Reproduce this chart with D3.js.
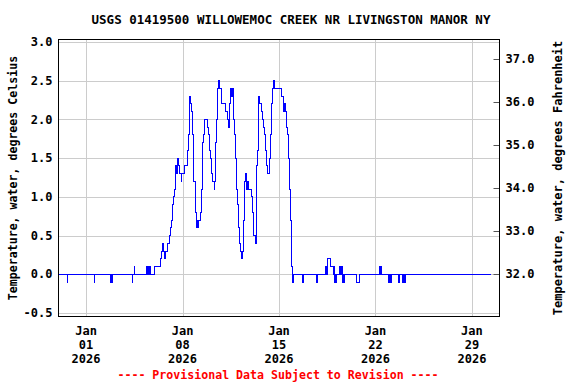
<!DOCTYPE html>
<html>
<head>
<meta charset="utf-8">
<script src="https://cdn.jsdelivr.net/npm/d3@7"></script>
<style>
  body { margin: 0; background: #fff; }
  text { font-family: "DejaVu Sans Mono", monospace; font-weight: bold; }
</style>
</head>
<body>
<div id="chart"></div>
<script>
const title = "USGS 01419500 WILLOWEMOC CREEK NR LIVINGSTON MANOR NY";
const footer = "---- Provisional Data Subject to Revision ----";
const leftLabel = "Temperature, water, degrees Celsius";
const rightLabel = "Temperature, water, degrees Fahrenheit";

const celsiusTicks = [-0.5, 0, 0.5, 1, 1.5, 2, 2.5, 3];
const fahrenheitTicks = [32, 33, 34, 35, 36, 37];
const dateTicks = ["2026-01-01 00:00", "2026-01-08 00:00", "2026-01-15 00:00", "2026-01-22 00:00", "2026-01-29 00:00"];

// water temperature (deg C), value holds until the next reading
const readings = [
  ["2025-12-30 00:00", 0.0], ["2025-12-30 16:00", -0.1], ["2025-12-30 16:15", 0.0],
  ["2026-01-01 14:30", -0.1], ["2026-01-01 14:45", 0.0],
  ["2026-01-02 18:15", -0.1], ["2026-01-02 18:45", 0.0], ["2026-01-02 19:15", -0.1], ["2026-01-02 19:45", 0.0],
  ["2026-01-02 20:15", -0.1], ["2026-01-02 20:45", 0.0], ["2026-01-02 21:15", -0.1], ["2026-01-02 21:45", 0.0],
  ["2026-01-02 22:15", -0.1], ["2026-01-02 22:45", 0.0],
  ["2026-01-04 08:30", -0.1], ["2026-01-04 08:45", 0.0], ["2026-01-04 12:30", 0.1], ["2026-01-04 12:45", 0.0],
  ["2026-01-05 09:30", 0.1], ["2026-01-05 10:00", 0.0], ["2026-01-05 10:30", 0.1], ["2026-01-05 11:00", 0.0],
  ["2026-01-05 11:30", 0.1], ["2026-01-05 12:00", 0.0], ["2026-01-05 12:30", 0.1], ["2026-01-05 13:00", 0.0],
  ["2026-01-05 13:30", 0.1], ["2026-01-05 14:00", 0.0], ["2026-01-05 14:30", 0.1], ["2026-01-05 15:00", 0.0],
  ["2026-01-05 15:30", 0.1], ["2026-01-05 15:45", 0.0],
  ["2026-01-05 23:15", 0.1], ["2026-01-06 09:45", 0.2], ["2026-01-06 11:00", 0.3], ["2026-01-06 12:15", 0.4],
  ["2026-01-06 14:00", 0.3], ["2026-01-06 16:15", 0.2], ["2026-01-06 16:45", 0.3], ["2026-01-06 17:15", 0.2],
  ["2026-01-06 17:45", 0.3], ["2026-01-06 18:15", 0.2], ["2026-01-06 18:45", 0.3], ["2026-01-06 22:30", 0.4],
  ["2026-01-07 01:15", 0.5], ["2026-01-07 03:45", 0.6], ["2026-01-07 05:30", 0.7], ["2026-01-07 06:30", 0.8],
  ["2026-01-07 07:15", 0.9], ["2026-01-07 09:00", 1.0], ["2026-01-07 10:00", 1.1], ["2026-01-07 11:00", 1.2],
  ["2026-01-07 11:45", 1.4], ["2026-01-07 12:15", 1.3], ["2026-01-07 12:45", 1.4], ["2026-01-07 13:15", 1.3],
  ["2026-01-07 13:45", 1.4], ["2026-01-07 14:15", 1.3], ["2026-01-07 14:45", 1.4], ["2026-01-07 15:15", 1.5],
  ["2026-01-07 16:30", 1.4], ["2026-01-07 18:45", 1.3], ["2026-01-07 22:15", 1.2], ["2026-01-07 22:30", 1.3],
  ["2026-01-08 03:30", 1.4], ["2026-01-08 08:00", 1.5], ["2026-01-08 09:15", 1.6], ["2026-01-08 10:15", 1.7],
  ["2026-01-08 11:00", 1.8], ["2026-01-08 11:30", 2.0], ["2026-01-08 12:00", 2.2], ["2026-01-08 12:15", 2.3],
  ["2026-01-08 14:30", 2.2], ["2026-01-08 16:15", 2.1], ["2026-01-08 17:00", 2.0], ["2026-01-08 17:30", 1.9],
  ["2026-01-08 18:00", 1.8], ["2026-01-08 19:00", 1.5], ["2026-01-08 19:45", 1.2], ["2026-01-08 22:00", 1.1],
  ["2026-01-08 22:45", 1.0], ["2026-01-08 23:15", 0.8], ["2026-01-09 00:15", 0.7], ["2026-01-09 01:00", 0.6],
  ["2026-01-09 01:30", 0.7], ["2026-01-09 02:00", 0.6], ["2026-01-09 02:30", 0.7], ["2026-01-09 03:00", 0.6],
  ["2026-01-09 03:30", 0.7], ["2026-01-09 04:00", 0.6], ["2026-01-09 04:30", 0.7], ["2026-01-09 06:45", 0.8],
  ["2026-01-09 09:45", 1.1], ["2026-01-09 10:30", 1.4], ["2026-01-09 11:30", 1.7], ["2026-01-09 12:30", 1.8],
  ["2026-01-09 13:45", 1.9], ["2026-01-09 14:15", 2.0], ["2026-01-09 18:45", 1.9], ["2026-01-09 21:00", 1.8],
  ["2026-01-09 22:15", 1.7], ["2026-01-09 23:30", 1.6], ["2026-01-10 01:15", 1.5], ["2026-01-10 02:00", 1.4],
  ["2026-01-10 03:00", 1.3], ["2026-01-10 04:45", 1.2], ["2026-01-10 07:00", 1.1], ["2026-01-10 07:30", 1.2],
  ["2026-01-10 08:45", 1.5], ["2026-01-10 10:00", 1.7], ["2026-01-10 11:00", 1.8], ["2026-01-10 11:45", 2.0],
  ["2026-01-10 13:30", 2.4], ["2026-01-10 14:30", 2.5], ["2026-01-10 16:15", 2.4], ["2026-01-10 19:15", 2.3],
  ["2026-01-10 20:30", 2.2], ["2026-01-11 02:00", 2.1], ["2026-01-11 06:00", 2.0], ["2026-01-11 08:00", 1.9],
  ["2026-01-11 09:30", 2.2], ["2026-01-11 10:45", 2.3], ["2026-01-11 11:15", 2.4], ["2026-01-11 11:45", 2.3],
  ["2026-01-11 12:15", 2.4], ["2026-01-11 12:45", 2.3], ["2026-01-11 13:15", 2.4], ["2026-01-11 13:45", 2.3],
  ["2026-01-11 14:15", 2.4], ["2026-01-11 14:45", 2.3], ["2026-01-11 15:15", 2.4], ["2026-01-11 15:45", 2.3],
  ["2026-01-11 16:15", 2.4], ["2026-01-11 16:30", 2.1], ["2026-01-11 17:15", 2.0], ["2026-01-11 18:00", 1.9],
  ["2026-01-11 18:45", 1.8], ["2026-01-11 19:30", 1.7], ["2026-01-11 20:30", 1.5], ["2026-01-11 21:15", 1.3],
  ["2026-01-11 22:00", 1.2], ["2026-01-11 22:45", 1.1], ["2026-01-11 23:30", 1.0], ["2026-01-12 00:30", 0.9],
  ["2026-01-12 01:15", 0.8], ["2026-01-12 02:15", 0.6], ["2026-01-12 03:00", 0.5], ["2026-01-12 03:45", 0.4],
  ["2026-01-12 04:15", 0.3], ["2026-01-12 06:00", 0.2], ["2026-01-12 09:00", 0.3], ["2026-01-12 10:00", 0.5],
  ["2026-01-12 10:45", 0.7], ["2026-01-12 11:15", 0.9], ["2026-01-12 11:45", 1.0], ["2026-01-12 12:15", 1.2],
  ["2026-01-12 14:00", 1.3], ["2026-01-12 15:45", 1.2], ["2026-01-12 16:15", 1.1], ["2026-01-12 16:45", 1.2],
  ["2026-01-12 17:15", 1.1], ["2026-01-12 17:45", 1.2], ["2026-01-12 18:15", 1.1], ["2026-01-13 00:30", 1.0],
  ["2026-01-13 01:30", 0.9], ["2026-01-13 02:15", 0.8], ["2026-01-13 02:45", 0.7], ["2026-01-13 03:00", 0.6],
  ["2026-01-13 03:15", 0.5], ["2026-01-13 06:15", 0.4], ["2026-01-13 08:00", 0.8], ["2026-01-13 08:45", 1.1],
  ["2026-01-13 09:15", 1.4], ["2026-01-13 10:30", 1.6], ["2026-01-13 11:30", 1.8], ["2026-01-13 12:15", 2.0],
  ["2026-01-13 12:45", 2.3], ["2026-01-13 14:30", 2.2], ["2026-01-13 16:45", 2.1], ["2026-01-13 18:30", 2.0],
  ["2026-01-13 20:45", 1.9], ["2026-01-13 23:00", 1.8], ["2026-01-14 00:00", 1.7], ["2026-01-14 01:00", 1.6],
  ["2026-01-14 01:45", 1.5], ["2026-01-14 02:30", 1.4], ["2026-01-14 04:15", 1.3], ["2026-01-14 08:15", 1.5],
  ["2026-01-14 08:45", 1.6], ["2026-01-14 09:45", 1.8], ["2026-01-14 10:30", 2.0], ["2026-01-14 11:30", 2.2],
  ["2026-01-14 12:15", 2.4], ["2026-01-14 14:00", 2.5], ["2026-01-14 17:00", 2.4], ["2026-01-15 04:30", 2.3],
  ["2026-01-15 07:30", 2.2], ["2026-01-15 08:00", 2.1], ["2026-01-15 08:30", 2.2], ["2026-01-15 09:00", 2.1],
  ["2026-01-15 09:30", 2.2], ["2026-01-15 11:30", 2.1], ["2026-01-15 13:00", 2.0], ["2026-01-15 13:45", 1.9],
  ["2026-01-15 14:30", 1.8], ["2026-01-15 15:45", 1.7], ["2026-01-15 17:00", 1.5], ["2026-01-15 18:00", 1.3],
  ["2026-01-15 19:00", 1.1], ["2026-01-15 20:00", 0.9], ["2026-01-15 20:45", 0.7], ["2026-01-15 21:30", 0.5],
  ["2026-01-15 22:00", 0.2], ["2026-01-15 22:30", 0.1], ["2026-01-15 23:00", -0.1], ["2026-01-15 23:30", 0.0],
  ["2026-01-16 00:00", -0.1], ["2026-01-16 00:30", 0.0],
  ["2026-01-16 16:45", -0.1], ["2026-01-16 18:15", 0.0], ["2026-01-17 17:30", -0.1], ["2026-01-17 19:45", 0.0],
  ["2026-01-18 09:45", 0.1], ["2026-01-18 10:15", 0.0], ["2026-01-18 10:45", 0.1], ["2026-01-18 11:15", 0.0],
  ["2026-01-18 11:45", 0.1], ["2026-01-18 12:30", 0.2], ["2026-01-18 18:15", 0.1], ["2026-01-18 22:15", 0.0],
  ["2026-01-18 22:45", 0.1], ["2026-01-18 23:15", 0.0], ["2026-01-18 23:45", 0.1], ["2026-01-19 00:15", 0.0],
  ["2026-01-19 00:45", 0.1], ["2026-01-19 01:15", -0.1], ["2026-01-19 01:45", 0.0], ["2026-01-19 02:15", -0.1],
  ["2026-01-19 02:45", 0.0], ["2026-01-19 03:15", -0.1], ["2026-01-19 03:45", 0.0],
  ["2026-01-19 10:00", 0.1], ["2026-01-19 10:30", 0.0], ["2026-01-19 11:00", 0.1], ["2026-01-19 11:30", 0.0],
  ["2026-01-19 12:00", 0.1], ["2026-01-19 12:30", 0.0], ["2026-01-19 13:00", 0.1], ["2026-01-19 13:30", 0.0],
  ["2026-01-19 14:00", 0.1], ["2026-01-19 14:30", -0.1], ["2026-01-19 15:00", 0.0], ["2026-01-19 15:30", -0.1],
  ["2026-01-19 16:00", 0.0], ["2026-01-19 16:30", -0.1], ["2026-01-19 17:00", 0.0], ["2026-01-19 17:30", -0.1],
  ["2026-01-19 18:00", 0.0],
  ["2026-01-20 15:00", -0.1], ["2026-01-20 19:30", 0.0],
  ["2026-01-22 07:30", 0.1], ["2026-01-22 08:00", 0.0], ["2026-01-22 08:30", 0.1], ["2026-01-22 09:00", 0.0],
  ["2026-01-22 09:30", 0.1], ["2026-01-22 10:00", 0.0],
  ["2026-01-22 23:00", -0.1], ["2026-01-22 23:30", 0.0], ["2026-01-23 00:00", -0.1], ["2026-01-23 00:30", 0.0],
  ["2026-01-23 01:00", -0.1], ["2026-01-23 01:30", 0.0], ["2026-01-23 02:00", -0.1], ["2026-01-23 02:30", 0.0],
  ["2026-01-23 03:00", -0.1], ["2026-01-23 03:30", 0.0],
  ["2026-01-23 15:15", -0.1], ["2026-01-23 15:45", 0.0], ["2026-01-23 16:15", -0.1], ["2026-01-23 16:45", 0.0],
  ["2026-01-23 17:15", -0.1], ["2026-01-23 17:45", 0.0],
  ["2026-01-23 22:45", -0.1], ["2026-01-23 23:15", 0.0], ["2026-01-23 23:45", -0.1], ["2026-01-24 00:15", 0.0],
  ["2026-01-24 00:45", -0.1], ["2026-01-24 01:15", 0.0], ["2026-01-24 01:45", -0.1], ["2026-01-24 02:15", 0.0],
  ["2026-01-24 02:45", -0.1], ["2026-01-24 03:15", 0.0], ["2026-01-24 03:45", -0.1], ["2026-01-24 04:15", 0.0],
  ["2026-01-30 10:00", 0.0]
];

const width = 576, height = 384;
const frame = { left: 58.5, right: 499.5, top: 39.5, bottom: 316.5 };

const parse = d3.timeParse("%Y-%m-%d %H:%M");
const data = readings.map(d => ({ date: parse(d[0]), value: d[1] }));

const x = d3.scaleTime()
  .domain([parse("2025-12-30 00:00"), parse("2026-01-31 00:00")])
  .range([frame.left, frame.right]);

const y = d3.scaleLinear()
  .domain([-0.5, 3.0])
  .range([313, 42]);

// same pixels, fahrenheit units
const yF = d3.scaleLinear()
  .domain(y.domain().map(c => c * 1.8 + 32))
  .range(y.range());

const svg = d3.select("#chart")
  .append("svg")
  .attr("width", width)
  .attr("height", height);

const snap = v => Math.round(v) + 0.5;

// grid
svg.append("g")
  .selectAll("line")
  .data(celsiusTicks)
  .join("line")
  .attr("x1", frame.left).attr("x2", frame.right)
  .attr("y1", d => snap(y(d))).attr("y2", d => snap(y(d)))
  .attr("stroke", "#cccccc");

svg.append("g")
  .selectAll("line")
  .data(dateTicks.map(parse))
  .join("line")
  .attr("x1", d => snap(x(d))).attr("x2", d => snap(x(d)))
  .attr("y1", frame.top).attr("y2", frame.bottom)
  .attr("stroke", "#cccccc");

// right axis ticks
svg.append("g")
  .selectAll("line")
  .data(fahrenheitTicks)
  .join("line")
  .attr("x1", frame.right - 6).attr("x2", frame.right)
  .attr("y1", d => snap(yF(d))).attr("y2", d => snap(yF(d)))
  .attr("stroke", "#555");

// the series
const line = d3.line()
  .x(d => x(d.date))
  .y(d => y(d.value))
  .curve(d3.curveStepAfter);

svg.append("path")
  .datum(data)
  .attr("d", line)
  .attr("fill", "none")
  .attr("stroke", "#0000ff")
  .attr("stroke-width", 1)
  .attr("shape-rendering", "crispEdges");

svg.append("rect")
  .attr("x", frame.left).attr("y", frame.top)
  .attr("width", frame.right - frame.left)
  .attr("height", frame.bottom - frame.top)
  .attr("fill", "none")
  .attr("stroke", "#000");

// labels
svg.append("g")
  .selectAll("text")
  .data(celsiusTicks)
  .join("text")
  .attr("x", frame.left - 6)
  .attr("y", d => y(d))
  .attr("dy", "0.35em")
  .attr("text-anchor", "end")
  .attr("font-size", 12)
  .text(d => d3.format(".1f")(d).replace("−", "-"));

svg.append("g")
  .selectAll("text")
  .data(fahrenheitTicks)
  .join("text")
  .attr("x", frame.right + 6)
  .attr("y", d => yF(d))
  .attr("dy", "0.35em")
  .attr("font-size", 12)
  .text(d => d3.format(".1f")(d));

const dateLabels = svg.append("g")
  .selectAll("text")
  .data(dateTicks.map(parse))
  .join("text")
  .attr("text-anchor", "middle")
  .attr("font-size", 12);

[["%b", 335], ["%d", 349], ["%Y", 363]].forEach(([fmt, yy]) => {
  dateLabels.append("tspan")
    .attr("x", d => x(d))
    .attr("y", yy)
    .text(d => d3.timeFormat(fmt)(d));
});

svg.append("text")
  .attr("x", 291).attr("y", 24)
  .attr("text-anchor", "middle")
  .attr("font-size", 12.5)
  .text(title);

svg.append("text")
  .attr("x", 278).attr("y", 379)
  .attr("text-anchor", "middle")
  .attr("font-size", 11.6)
  .attr("fill", "#ff0000")
  .text(footer);

svg.append("text")
  .attr("transform", `translate(17, ${(frame.top + frame.bottom) / 2}) rotate(-90)`)
  .attr("text-anchor", "middle")
  .attr("font-size", 11.6)
  .text(leftLabel);

svg.append("text")
  .attr("transform", `translate(562, ${(frame.top + frame.bottom) / 2}) rotate(-90)`)
  .attr("text-anchor", "middle")
  .attr("font-size", 12)
  .text(rightLabel);
</script>
</body>
</html>
